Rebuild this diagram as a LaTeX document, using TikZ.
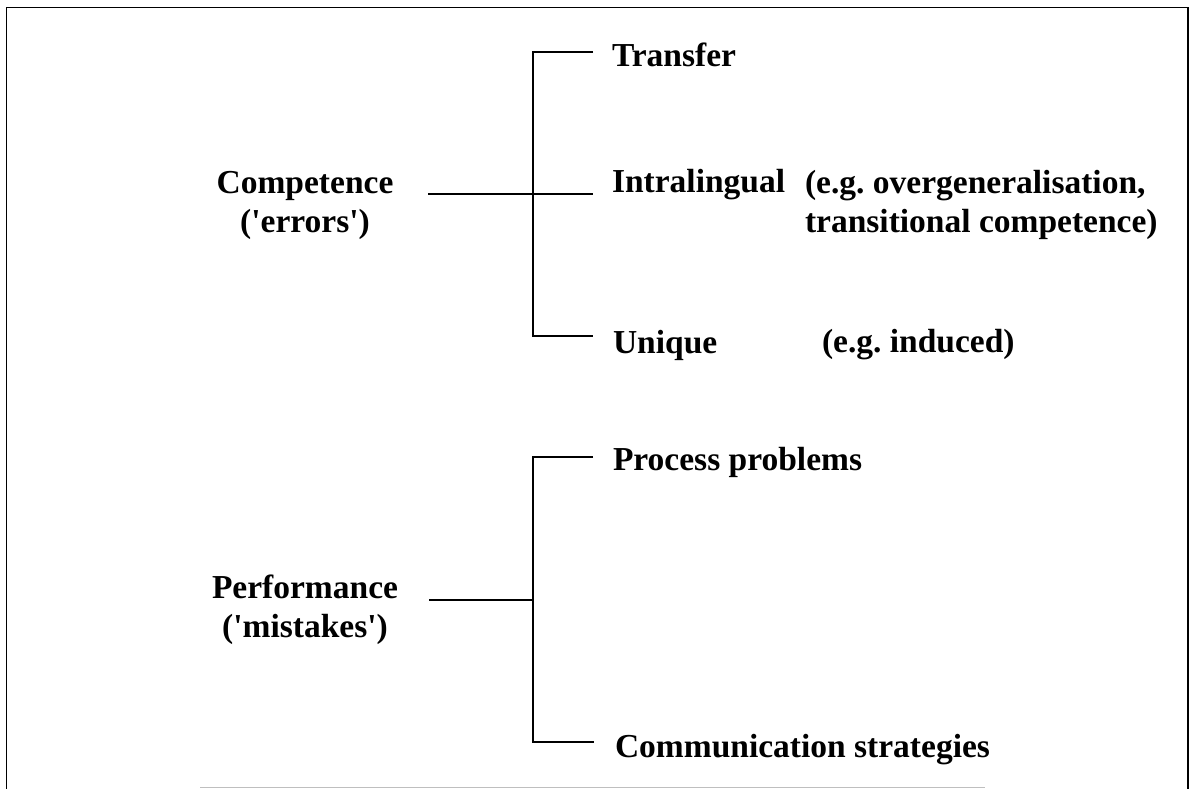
\documentclass[tikz,border=0pt]{standalone}
\usepackage{fontspec}
\setmainfont{Liberation Serif}
\begin{document}
\begin{tikzpicture}[x=1pt,y=-1pt,
  lbl/.style={inner sep=0pt,outer sep=0pt,font=\fontsize{33.5}{39}\selectfont\bfseries},
  conn/.style={line width=1.1pt,black},
  frame/.style={line width=1.6pt,black}]
\useasboundingbox (0,0) rectangle (1194,789);
% frame
\coordinate (fbl) at (6.5,789);
\coordinate (ftl) at (6.5,7.5);
\coordinate (ftr) at (1188,7.5);
\coordinate (fbr) at (1188,789);
\draw[frame] (fbl) -- (ftl) -- (ftr) -- (fbr);
\draw[line width=1pt,black!25] (200,787.5) -- (985,787.5);
% labels, tree 1 (base anchor = baseline of last line)
\node[lbl,anchor=base,align=center] (comp) at (305,232) {Competence\\(\textquotesingle errors\textquotesingle)};
\node[lbl,anchor=base west] (transfer) at (612,67) {Transfer};
\node[lbl,anchor=base west] (intra) at (612,193) {Intralingual};
\node[lbl,anchor=base west,align=left] (intraeg) at (805,232) {(e.g.\ overgeneralisation,\\transitional competence)};
\node[lbl,anchor=base west] (unique) at (613,353) {Unique};
\node[lbl,anchor=base west] (uniqueeg) at (822,352) {(e.g.\ induced)};
% labels, tree 2
\node[lbl,anchor=base,align=center] (perf) at (305,637) {Performance\\(\textquotesingle mistakes\textquotesingle)};
\node[lbl,anchor=base west] (proc) at (613,470) {Process problems};
\node[lbl,anchor=base west] (comm) at (615,757) {Communication strategies};
% connector points, tree 1
\coordinate (c0) at (428,194);
\coordinate (cj) at (533,194);
\coordinate (ct) at (533,52);
\coordinate (cu) at (533,336);
\coordinate (ctE) at (593,52);
\coordinate (ciE) at (593,194);
\coordinate (cuE) at (593,336);
\draw[conn] (c0) -- (cj) -- (ciE);
\draw[conn] (ctE) -- (ct) -- (cu) -- (cuE);
% connector points, tree 2
\coordinate (p0) at (429,600);
\coordinate (pj) at (533,600);
\coordinate (pt) at (533,457);
\coordinate (pb) at (533,742);
\coordinate (ptE) at (593,457);
\coordinate (pbE) at (594,742);
\draw[conn] (p0) -- (pj);
\draw[conn] (ptE) -- (pt) -- (pb) -- (pbE);
\end{tikzpicture}
\end{document}
